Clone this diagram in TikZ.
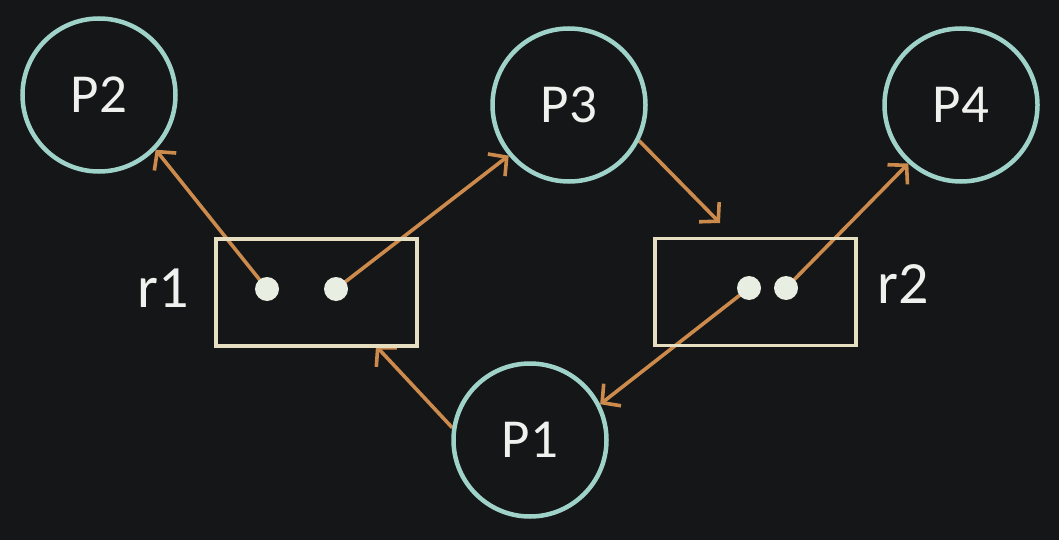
\documentclass[tikz,border=0pt]{standalone}
\usepackage{fontspec}
\setmainfont{Carlito}
\usetikzlibrary{arrows.meta}
\definecolor{bgc}{HTML}{151617}
\definecolor{circc}{HTML}{9FD2C9}
\definecolor{rectc}{HTML}{E6DEC0}
\definecolor{arrc}{HTML}{CC8A4C}
\definecolor{dotc}{HTML}{E8EEE2}
\definecolor{txtc}{HTML}{F0F0EE}
\pgfdeclarelayer{back}
\pgfdeclarelayer{arrowlayer}
\pgfsetlayers{back,arrowlayer,main}
\tikzset{
  proc/.style={circle, draw=circc, line width=4.5pt, minimum size=153pt, inner sep=0pt,
    text=txtc, font=\fontsize{55}{55}\selectfont},
  res/.style={rectangle, draw=rectc, line width=3.8pt, minimum width=201pt, minimum height=107pt, inner sep=0pt},
  inst/.style={circle, fill=dotc, minimum size=24pt, inner sep=0pt},
  rlabel/.style={text=txtc, font=\fontsize{60}{60}\selectfont, inner sep=0pt},
  edge/.style={draw=arrc, line width=3.6pt, -{Straight Barb[length=13pt, width=28pt, line width=3.6pt]}}
}
\begin{document}
\begin{tikzpicture}[x=1pt, y=-1pt]
\begin{pgfonlayer}{back}
\fill[bgc] (0,0) rectangle (1059,540);
\end{pgfonlayer}
\useasboundingbox (0,0) rectangle (1059,540);
\node[proc] (P2) at (99,95) {P2};
\node[proc] (P3) at (569,105) {P3};
\node[proc] (P4) at (961,105) {P4};
\node[proc] (P1) at (530,440) {P1};
\node[res] (r1) at (316.5,292.5) {};
\node[res] (r2) at (755.5,292) {};
\node[rlabel] (r1l) at (163,288) {r1};
\node[rlabel] (r2l) at (903,284) {r2};
\node[inst] (d1) at (267,289) {};
\node[inst] (d2) at (336,289) {};
\node[inst] (d3) at (749,288) {};
\node[inst] (d4) at (786,288) {};
\coordinate (r2in) at (720,223);
\coordinate (r1in) at (376,346);
\begin{pgfonlayer}{arrowlayer}
\draw[edge] (d1.center) -- (P2.-44);
\draw[edge] (d2.center) -- (P3.-140);
\draw[edge] (P3.-27) -- (r2in);
\draw[edge] (d4.center) -- (P4.-132);
\draw[edge] (d3.center) -- (P1.27);
\draw[edge] (P1.171) -- (r1in);
\end{pgfonlayer}
\end{tikzpicture}
\end{document}
